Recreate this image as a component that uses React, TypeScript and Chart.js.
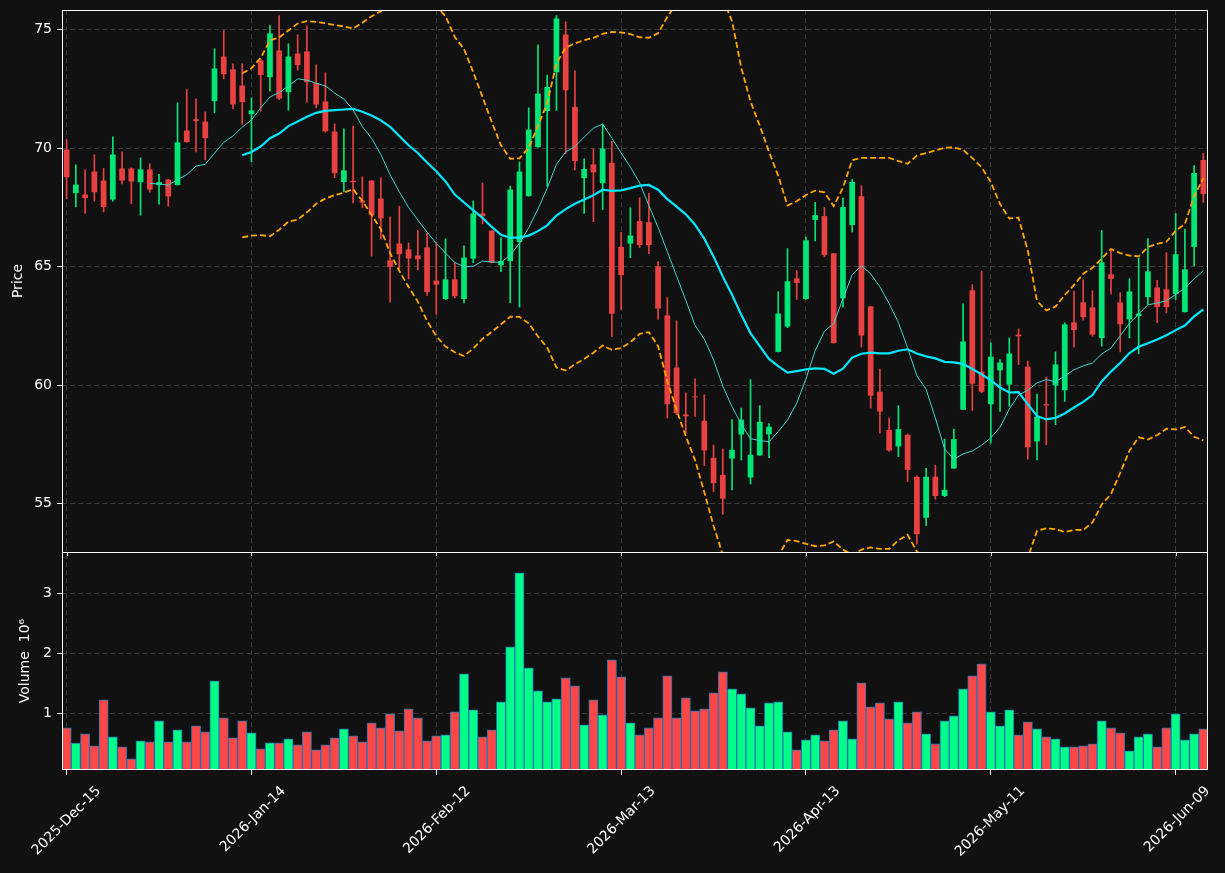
import React, { useEffect, useRef } from 'react';
import { Chart, registerables } from 'chart.js';

Chart.register(...registerables);

const DATES = [
  '2025-Dec-15','2025-Dec-16','2025-Dec-17','2025-Dec-18','2025-Dec-19','2025-Dec-22','2025-Dec-23','2025-Dec-24','2025-Dec-26','2025-Dec-29','2025-Dec-30','2025-Dec-31',
  '2026-Jan-02','2026-Jan-05','2026-Jan-06','2026-Jan-07','2026-Jan-08','2026-Jan-09','2026-Jan-12','2026-Jan-13','2026-Jan-14','2026-Jan-15','2026-Jan-16','2026-Jan-20','2026-Jan-21','2026-Jan-22','2026-Jan-23','2026-Jan-26','2026-Jan-27','2026-Jan-28','2026-Jan-29','2026-Jan-30',
  '2026-Feb-02','2026-Feb-03','2026-Feb-04','2026-Feb-05','2026-Feb-06','2026-Feb-09','2026-Feb-10','2026-Feb-11','2026-Feb-12','2026-Feb-13','2026-Feb-17','2026-Feb-18','2026-Feb-19','2026-Feb-20','2026-Feb-23','2026-Feb-24','2026-Feb-25','2026-Feb-26','2026-Feb-27',
  '2026-Mar-02','2026-Mar-03','2026-Mar-04','2026-Mar-05','2026-Mar-06','2026-Mar-09','2026-Mar-10','2026-Mar-11','2026-Mar-12','2026-Mar-13','2026-Mar-16','2026-Mar-17','2026-Mar-18','2026-Mar-19','2026-Mar-20','2026-Mar-23','2026-Mar-24','2026-Mar-25','2026-Mar-26','2026-Mar-27','2026-Mar-30','2026-Mar-31',
  '2026-Apr-01','2026-Apr-02','2026-Apr-06','2026-Apr-07','2026-Apr-08','2026-Apr-09','2026-Apr-10','2026-Apr-13','2026-Apr-14','2026-Apr-15','2026-Apr-16','2026-Apr-17','2026-Apr-20','2026-Apr-21','2026-Apr-22','2026-Apr-23','2026-Apr-24','2026-Apr-27','2026-Apr-28','2026-Apr-29','2026-Apr-30',
  '2026-May-01','2026-May-04','2026-May-05','2026-May-06','2026-May-07','2026-May-08','2026-May-11','2026-May-12','2026-May-13','2026-May-14','2026-May-15','2026-May-18','2026-May-19','2026-May-20','2026-May-21','2026-May-22','2026-May-26','2026-May-27','2026-May-28','2026-May-29',
  '2026-Jun-01','2026-Jun-02','2026-Jun-03','2026-Jun-04','2026-Jun-05','2026-Jun-08','2026-Jun-09','2026-Jun-10','2026-Jun-11','2026-Jun-12',
];

const OPEN = [
  69.95, 68.11, 68.05, 69.02, 68.64, 67.84, 69.15, 69.15, 68.57, 69.11,
  68.45, 68.68, 68.45, 70.75, 71.23, 71.13, 71.99, 73.87, 73.33, 72.65,
  71.44, 73.71, 73.00, 74.13, 72.37, 74.00, 74.09, 72.75, 71.98, 70.71,
  68.58, 68.63, 67.80, 68.64, 67.88, 65.27, 65.98, 65.73, 65.48, 65.82,
  64.42, 63.64, 64.47, 63.64, 65.35, 67.25, 66.53, 65.07, 65.24, 66.05,
  67.98, 70.05, 71.57, 73.21, 74.80, 71.75, 68.74, 69.32, 68.53, 69.39,
  65.84, 65.98, 66.93, 66.88, 65.02, 62.95, 60.75, 58.77, 59.53, 58.50,
  56.94, 56.22, 56.91, 57.92, 56.11, 57.04, 57.93, 61.41, 62.48, 64.51,
  63.64, 66.98, 67.14, 65.57, 63.67, 66.76, 67.98, 63.33, 59.73, 58.12,
  57.42, 57.91, 56.14, 54.41, 56.14, 55.33, 56.49, 58.97, 64.01, 60.58,
  59.20, 60.63, 60.03, 62.14, 60.79, 57.63, 59.20, 60.00, 59.79, 62.65,
  63.50, 63.29, 61.99, 64.68, 63.50, 62.78, 62.92, 63.72, 64.13, 64.05,
  63.86, 63.09, 65.84, 69.51,
];

const HIGH = [
  70.37, 69.30, 69.09, 69.73, 69.15, 70.49, 69.85, 69.18, 69.60, 69.35,
  68.90, 68.68, 71.92, 72.48, 72.09, 71.54, 74.20, 74.97, 73.57, 73.57,
  72.13, 73.75, 75.18, 75.60, 74.41, 74.79, 75.17, 73.52, 73.19, 71.03,
  70.82, 70.94, 68.80, 68.64, 68.76, 67.11, 67.56, 66.01, 66.53, 66.41,
  66.04, 66.18, 65.17, 65.89, 67.78, 68.54, 66.53, 66.22, 68.40, 69.42,
  71.71, 74.37, 73.09, 75.60, 75.34, 73.27, 69.56, 69.98, 71.03, 70.30,
  66.46, 67.49, 67.91, 68.10, 65.22, 63.70, 62.72, 59.68, 60.27, 59.60,
  57.48, 57.31, 58.55, 59.04, 60.24, 59.14, 58.38, 63.95, 65.77, 64.84,
  66.26, 67.72, 67.50, 65.57, 67.91, 68.69, 68.42, 63.33, 60.69, 58.62,
  59.14, 57.94, 56.18, 56.50, 56.63, 57.73, 58.15, 63.44, 64.25, 64.82,
  61.79, 61.09, 62.00, 62.38, 61.02, 59.63, 60.35, 61.41, 62.64, 63.98,
  64.46, 63.99, 66.53, 65.71, 63.91, 64.50, 65.37, 66.19, 64.43, 65.60,
  67.25, 66.59, 69.27, 69.79,
];

const LOW = [
  67.87, 67.53, 67.25, 67.77, 67.32, 67.77, 68.50, 67.66, 67.18, 68.15,
  67.64, 67.56, 68.45, 70.26, 69.85, 69.51, 71.50, 72.93, 71.67, 71.01,
  69.43, 71.57, 72.41, 72.05, 71.61, 73.30, 71.95, 71.71, 70.68, 68.76,
  68.16, 67.70, 67.49, 65.45, 66.18, 63.52, 64.93, 64.49, 64.87, 63.79,
  63.00, 63.62, 63.69, 63.48, 65.17, 66.81, 65.17, 64.79, 63.48, 63.30,
  67.98, 70.05, 68.40, 71.60, 69.77, 69.09, 67.25, 66.90, 67.42, 62.05,
  63.20, 65.38, 65.81, 65.56, 62.78, 58.62, 58.76, 57.98, 58.69, 56.61,
  55.51, 54.56, 55.59, 56.85, 55.84, 57.04, 56.95, 61.41, 62.43, 63.62,
  63.64, 66.09, 65.42, 61.78, 63.31, 66.47, 61.61, 59.04, 57.98, 57.21,
  56.99, 55.94, 53.30, 54.08, 55.19, 55.30, 56.49, 58.97, 58.94, 59.68,
  57.56, 58.90, 59.11, 60.87, 56.88, 56.85, 57.49, 58.34, 59.32, 61.61,
  62.75, 62.07, 61.65, 63.86, 61.41, 62.00, 61.33, 63.41, 62.64, 63.06,
  63.62, 63.09, 65.04, 67.72,
];

const CLOSE = [
  68.78, 68.47, 67.90, 68.15, 67.52, 69.74, 68.64, 68.60, 69.11, 68.26,
  68.57, 67.97, 70.25, 70.26, 71.15, 70.43, 73.37, 73.13, 71.85, 71.95,
  71.60, 73.09, 74.85, 72.10, 73.87, 73.51, 72.79, 71.85, 70.72, 68.95,
  69.07, 68.57, 67.71, 67.18, 67.04, 64.99, 65.53, 65.35, 65.32, 63.93,
  64.25, 64.47, 63.76, 65.39, 67.25, 67.14, 65.17, 65.24, 68.26, 69.02,
  70.79, 72.31, 72.59, 75.48, 72.45, 69.46, 69.13, 68.99, 69.99, 63.02,
  64.65, 66.32, 65.92, 65.92, 63.24, 59.20, 58.83, 58.69, 59.49, 57.25,
  55.87, 55.22, 57.28, 58.55, 57.07, 58.46, 58.25, 63.03, 64.39, 64.32,
  66.12, 67.18, 65.50, 61.78, 67.52, 68.58, 62.10, 59.56, 58.89, 57.25,
  58.15, 56.43, 53.72, 56.14, 55.33, 55.59, 57.73, 61.85, 60.07, 59.73,
  61.21, 60.96, 61.34, 62.07, 57.38, 58.67, 59.15, 60.88, 62.57, 62.33,
  62.88, 62.14, 65.19, 64.49, 62.58, 63.96, 63.03, 64.81, 63.30, 63.30,
  65.53, 64.89, 68.96, 68.07,
];

// volume in millions
const VOLUME = [
  0.767, 0.511, 0.667, 0.467, 1.233, 0.617, 0.450, 0.250, 0.550, 0.533,
  0.883, 0.533, 0.733, 0.533, 0.800, 0.700, 1.550, 0.933, 0.600, 0.883,
  0.683, 0.417, 0.517, 0.517, 0.583, 0.483, 0.700, 0.400, 0.483, 0.600,
  0.750, 0.633, 0.533, 0.850, 0.767, 1.000, 0.717, 1.083, 0.933, 0.550,
  0.633, 0.650, 1.033, 1.667, 1.067, 0.617, 0.733, 1.200, 2.117, 3.350,
  1.767, 1.383, 1.200, 1.250, 1.600, 1.467, 0.817, 1.233, 0.983, 1.900,
  1.617, 0.850, 0.650, 0.767, 0.933, 1.633, 0.933, 1.267, 1.050, 1.083,
  1.350, 1.700, 1.417, 1.333, 1.100, 0.800, 1.183, 1.200, 0.700, 0.400,
  0.567, 0.650, 0.550, 0.733, 0.883, 0.583, 1.517, 1.117, 1.183, 0.917,
  1.200, 0.850, 1.033, 0.667, 0.500, 0.883, 0.967, 1.417, 1.633, 1.833,
  1.033, 0.800, 1.067, 0.650, 0.867, 0.750, 0.617, 0.583, 0.450, 0.450,
  0.467, 0.500, 0.883, 0.767, 0.683, 0.383, 0.617, 0.667, 0.450, 0.767,
  1.000, 0.567, 0.667, 0.750,
];

const PRICE_TICKS = [55, 60, 65, 70, 75];
const VOLUME_TICKS = [1, 2, 3];
const X_TICK_EVERY = 20;
const PRICE_RANGE = [52.966, 75.837];
const VOLUME_RANGE = [0.063, 3.697];
const MA_SHORT = 10;
const MA_LONG = 20;
const BB_K = 2;

const BG = '#111111';
const GRID = '#3a3a3a';
const FG = '#ffffff';
const UP_CANDLE = '#00e676';
const DOWN_CANDLE = '#e84142';
const UP_VOL = '#00ff88';
const DOWN_VOL = '#ff4747';
const VOL_EDGE = '#1f77b4';
const FONT = "'DejaVu Sans', sans-serif";

const PRICE_WEIGHT = 542;
const VOL_WEIGHT = 218;

function rollingMean(arr: number[], n: number): (number | null)[] {
  return arr.map((_, i) => {
    if (i < n - 1) return null;
    let s = 0;
    for (let k = i - n + 1; k <= i; k++) s += arr[k];
    return s / n;
  });
}

function rollingStd(arr: number[], n: number): (number | null)[] {
  const m = rollingMean(arr, n);
  return arr.map((_, i) => {
    if (i < n - 1) return null;
    let s = 0;
    for (let k = i - n + 1; k <= i; k++) s += (arr[k] - (m[i] as number)) ** 2;
    return Math.sqrt(s / n);
  });
}

const panelFrame = {
  id: 'panelFrame',
  afterDatasetsDraw(chart: any) {
    const { ctx, chartArea } = chart;
    const y = chart.scales.y;
    const v = chart.scales.vol;
    const x = chart.scales.x;
    ctx.save();
    ctx.strokeStyle = FG;
    ctx.lineWidth = 1;
    const l = Math.round(chartArea.left) + 0.5;
    const r = Math.round(chartArea.right) - 0.5;
    ctx.strokeRect(l, Math.round(y.top) + 0.5, r - l, Math.round(y.bottom) - Math.round(y.top));
    ctx.strokeRect(l, Math.round(v.top) + 0.5, r - l, Math.round(v.bottom) - Math.round(v.top) - 1);
    x.ticks.forEach((_: any, i: number) => {
      const px = Math.round(x.getPixelForTick(i)) + 0.5;
      ctx.beginPath();
      ctx.moveTo(px, Math.round(y.bottom));
      ctx.lineTo(px, Math.round(y.bottom) + 4);
      ctx.stroke();
    });
    ctx.restore();
  },
};

export default function App() {
  const ref = useRef<HTMLCanvasElement>(null);

  useEffect(() => {
    document.body.style.margin = '0';
    document.body.style.background = BG;
    const up = CLOSE.map((c, i) => c >= OPEN[i]);
    const maS = rollingMean(CLOSE, MA_SHORT);
    const maL = rollingMean(CLOSE, MA_LONG);
    const sd = rollingStd(CLOSE, MA_LONG);
    const upper = maL.map((m, i) => (m == null ? null : m + BB_K * (sd[i] as number)));
    const lower = maL.map((m, i) => (m == null ? null : m - BB_K * (sd[i] as number)));

    const lineBase = {
      type: 'line' as const,
      yAxisID: 'y',
      pointRadius: 0,
      tension: 0,
      fill: false,
      clip: 0,
      order: 0,
    };

    const gridCommon = {
      color: GRID,
      lineWidth: 1,
      drawTicks: true,
      tickColor: FG,
      tickLength: 5,
      tickWidth: 1,
      tickBorderDash: [],
    };

    const chart = new Chart(ref.current as HTMLCanvasElement, {
      type: 'bar',
      data: {
        labels: DATES,
        datasets: [
          { ...lineBase, label: 'MA20', data: maL, borderColor: '#00e8ff', borderWidth: 2.2 },
          { ...lineBase, label: 'MA10', data: maS, borderColor: '#3fd6cb', borderWidth: 1 },
          { ...lineBase, label: 'BB upper', data: upper, borderColor: '#ffa500', borderWidth: 1.8, borderDash: [6, 3] },
          { ...lineBase, label: 'BB lower', data: lower, borderColor: '#ffa500', borderWidth: 1.8, borderDash: [6, 3] },
          {
            type: 'bar',
            label: 'Body',
            yAxisID: 'y',
            data: OPEN.map((o, i) => [o, CLOSE[i]]),
            backgroundColor: up.map((u) => (u ? UP_CANDLE : DOWN_CANDLE)),
            barPercentage: 0.62,
            categoryPercentage: 1,
            grouped: false,
            minBarLength: 1,
            clip: 0,
            order: 1,
          },
          {
            type: 'bar',
            label: 'Wick',
            yAxisID: 'y',
            data: LOW.map((l, i) => [l, HIGH[i]]),
            backgroundColor: up.map((u) => (u ? UP_CANDLE : DOWN_CANDLE)),
            barThickness: 1,
            grouped: false,
            clip: 0,
            order: 2,
          },
          {
            type: 'bar',
            label: 'Volume',
            yAxisID: 'vol',
            data: VOLUME,
            backgroundColor: up.map((u) => (u ? UP_VOL : DOWN_VOL)),
            borderColor: VOL_EDGE,
            borderWidth: 1,
            barPercentage: 1,
            categoryPercentage: 1,
            grouped: false,
            clip: 0,
            order: 3,
          },
        ] as any,
      },
      options: {
        responsive: false,
        animation: false,
        devicePixelRatio: 1,
        layout: { padding: { left: 0, right: 17, top: 10, bottom: 0 } },
        plugins: { legend: { display: false }, tooltip: { enabled: false } },
        scales: {
          x: {
            type: 'category',
            position: 'bottom',
            offset: true,
            grid: { ...gridCommon, offset: false },
            border: { display: false, dash: [5, 3] },
            ticks: {
              autoSkip: false,
              minRotation: 45,
              maxRotation: 45,
              color: FG,
              font: { family: FONT, size: 14 },
              padding: 8,
              labelOffset: 32,
            },
            afterBuildTicks: (s: any) => {
              s.ticks = s.ticks.filter((t: any) => t.value % X_TICK_EVERY === 0);
            },
            afterFit: (s: any) => {
              s.height = 103;
              s.paddingLeft = 0;
              s.paddingRight = 0;
            },
          },
          vol: {
            type: 'linear',
            position: 'left',
            stack: 'panels',
            stackWeight: VOL_WEIGHT,
            min: VOLUME_RANGE[0],
            max: VOLUME_RANGE[1],
            grid: gridCommon,
            border: { display: false, dash: [5, 3] },
            ticks: { color: FG, font: { family: FONT, size: 14 }, padding: 5 },
            title: { display: true, text: 'Volume  10\u2076', color: FG, font: { family: FONT, size: 14 }, padding: { top: 17, bottom: 0 } },
            afterBuildTicks: (s: any) => {
              s.ticks = VOLUME_TICKS.map((v) => ({ value: v }));
            },
            afterFit: (s: any) => {
              s.width = 62;
              s.paddingTop = 0;
              s.paddingBottom = 0;
            },
          },
          y: {
            type: 'linear',
            position: 'left',
            stack: 'panels',
            stackWeight: PRICE_WEIGHT,
            min: PRICE_RANGE[0],
            max: PRICE_RANGE[1],
            grid: gridCommon,
            border: { display: false, dash: [5, 3] },
            ticks: { color: FG, font: { family: FONT, size: 14 }, padding: 5 },
            title: { display: true, text: 'Price', color: FG, font: { family: FONT, size: 14 }, padding: { top: 10, bottom: 0 } },
            afterBuildTicks: (s: any) => {
              s.ticks = PRICE_TICKS.map((v) => ({ value: v }));
            },
            afterFit: (s: any) => {
              s.width = 62;
              s.paddingTop = 0;
              s.paddingBottom = 0;
            },
          },
        } as any,
      },
      plugins: [panelFrame],
    });
    return () => chart.destroy();
  }, []);

  return (
    <div style={{ width: 1225, height: 873, background: BG }}>
      <canvas ref={ref} width={1225} height={873} style={{ display: 'block' }} />
    </div>
  );
}
